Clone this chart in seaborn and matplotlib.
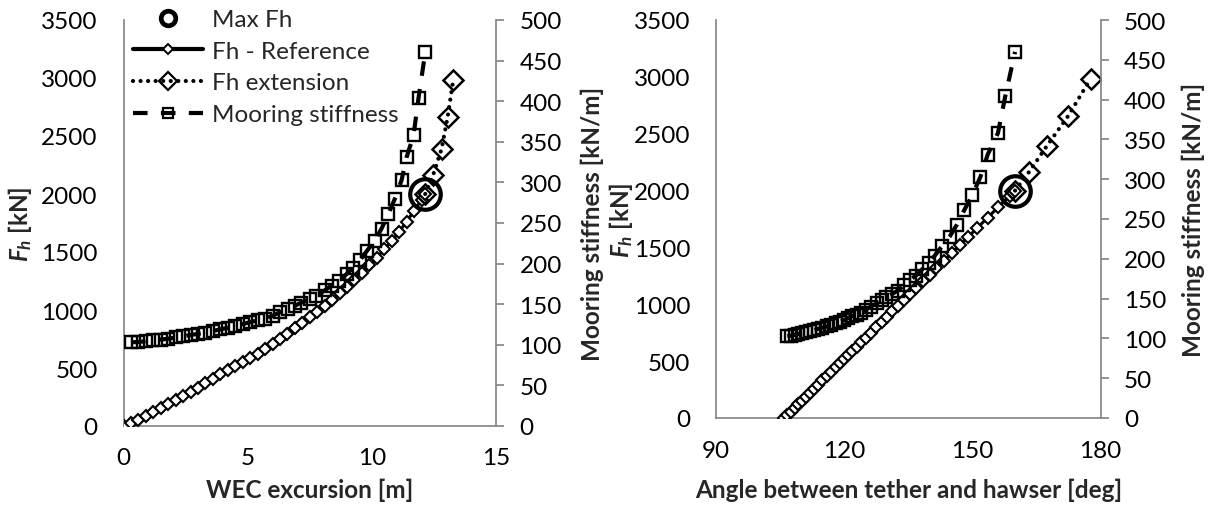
import matplotlib
matplotlib.use("Agg")
import matplotlib.pyplot as plt
from matplotlib.lines import Line2D
import seaborn as sns

# ---------------- data ----------------
# Fh - Reference (diamonds, solid line)
exc_ref = [0.0, 0.3, 0.6, 0.9, 1.2, 1.5, 1.8, 2.1, 2.4, 2.7, 3.0, 3.3, 3.6, 3.9,
           4.2, 4.5, 4.8, 5.1, 5.4, 5.7, 6.0, 6.3, 6.6, 6.9, 7.2, 7.5, 7.8, 8.1,
           8.4, 8.7, 9.0, 9.3, 9.6, 9.9, 10.2, 10.5, 10.8, 11.1, 11.4, 11.7, 12.0, 12.15]
ang_ref = [106.0, 106.7, 107.5, 108.4, 109.2, 110.1, 111.0, 112.0, 112.9, 113.9, 114.9,
           115.9, 117.0, 118.0, 119.0, 120.0, 120.9, 121.9, 122.9, 123.9, 125.0, 126.2,
           127.5, 128.8, 130.0, 131.3, 132.6, 134.0, 135.4, 136.9, 138.4, 140.0, 141.6,
           143.4, 145.2, 147.1, 149.1, 151.2, 153.6, 156.1, 158.7, 160.0]
fh_ref = [0, 27, 56, 88, 120, 153, 186, 221, 256, 293, 330, 368, 406, 445, 482, 517,
          552, 588, 625, 664, 705, 750, 797, 844, 890, 937, 985, 1036, 1088, 1143, 1201,
          1260, 1320, 1384, 1451, 1522, 1595, 1674, 1762, 1856, 1950, 2000]

# Fh extension (dotted)
exc_ext = [12.15, 12.47, 12.81, 13.05, 13.28]
ang_ext = [160.0, 163.3, 167.4, 172.5, 177.7]
fh_ext = [2000, 2165, 2390, 2660, 2985]

# Mooring stiffness (squares, dashed, secondary axis)
exc_k = [0.3, 0.6, 0.9, 1.2, 1.5, 1.8, 2.1, 2.4, 2.7, 3.0, 3.3, 3.6, 3.9, 4.2, 4.5,
         4.8, 5.1, 5.4, 5.69, 6.02, 6.29, 6.63, 6.9, 7.16, 7.5, 7.77, 8.1, 8.38, 8.68,
         8.98, 9.25, 9.52, 9.81, 10.12, 10.39, 10.66, 10.93, 11.2, 11.4, 11.68, 11.88, 12.15]
ang_k = [106.7, 107.5, 108.4, 109.2, 110.1, 111.0, 112.0, 112.9, 113.9, 114.9, 115.9,
         117.0, 118.0, 119.0, 120.0, 120.9, 121.9, 122.9, 123.9, 125.1, 126.2, 127.7,
         128.8, 129.9, 131.3, 132.5, 134.0, 135.3, 136.8, 138.3, 139.8, 141.2, 142.9,
         144.7, 146.4, 148.1, 150.0, 151.9, 153.6, 156.0, 157.7, 160.0]
stiff_k = [103, 103.5, 104.5, 105.5, 106.5, 107.5, 109, 110.5, 112, 113.5, 115, 117,
           119, 121, 123, 125.5, 128, 130, 132, 136, 140, 144, 148, 152, 156, 160, 167,
           173, 179, 187, 195, 204, 216, 228, 243, 261, 280, 303, 331, 358, 404, 460]

# Max Fh
max_exc = [12.15]
max_ang = [160.0]
max_fh = [2000]

fh_ticks = [0, 500, 1000, 1500, 2000, 2500, 3000, 3500]
stiff_ticks = [0, 50, 100, 150, 200, 250, 300, 350, 400, 450, 500]
exc_ticks = [0, 5, 10, 15]
ang_ticks = [90, 120, 150, 180]

# ---------------- style ----------------
sns.set_theme(style="white")
plt.rcParams["font.family"] = ["Lato", "DejaVu Sans"]
plt.rcParams["mathtext.fontset"] = "custom"
plt.rcParams["mathtext.it"] = "Lato:italic:bold"
plt.rcParams["mathtext.rm"] = "Lato:bold"
plt.rcParams["mathtext.bf"] = "Lato:bold"

FS = 17.5
GRAY = "#878787"
SPW = 1.25

fig = plt.figure(figsize=(12.08, 5.06), dpi=100)
W, H = 1208.0, 506.0


def add_axes(l, r, t, b):
    return fig.add_axes([l / W, 1 - b / H, (r - l) / W, (b - t) / H])


def panel(ax, xr, xe, xk, xm, xlim, xticks, xlabel, xpad, ylab_x, y2lab_x, xlab_y):
    # Fh reference
    sns.lineplot(x=xr, y=fh_ref, ax=ax, color="black", linewidth=2.2, marker="D",
                 markersize=6.4, markerfacecolor="white", markeredgecolor="black",
                 markeredgewidth=1.5, sort=False, estimator=None, legend=False, zorder=3)
    # Fh extension
    sns.lineplot(x=xe, y=fh_ext, ax=ax, color="black", linewidth=3.0,
                 linestyle=(0, (0.01, 1.8)), dash_capstyle="round", marker="D",
                 markersize=9.7, markerfacecolor="none", markeredgecolor="black",
                 markeredgewidth=1.8, sort=False, estimator=None, legend=False, zorder=3)
    # Max Fh
    sns.lineplot(x=xm, y=max_fh, ax=ax, color="black", linestyle="none", marker="o",
                 markersize=22, markerfacecolor="none", markeredgecolor="black",
                 markeredgewidth=3.0, sort=False, estimator=None, legend=False, zorder=4)
    ax.set_xlim(*xlim)
    ax.set_ylim(0, 3500)
    ax.set_xticks(xticks)
    ax.set_yticks(fh_ticks)
    ax.set_xticklabels([str(v) for v in xticks])
    ax.set_yticklabels([str(v) for v in fh_ticks])
    for s in ["top", "right"]:
        ax.spines[s].set_visible(False)
    for s in ["left", "bottom"]:
        ax.spines[s].set_color(GRAY)
        ax.spines[s].set_linewidth(SPW)
    ax.tick_params(axis="both", length=0, labelsize=FS, colors="black")
    ax.tick_params(axis="y", pad=18.5)
    ax.tick_params(axis="x", pad=xpad)
    ax.set_xlabel(xlabel, fontsize=FS, fontweight="bold")
    ax.set_ylabel(r"$F_h$ [kN]", fontsize=FS, fontweight="bold")
    ax.xaxis.set_label_coords(0.5, xlab_y)
    ax.yaxis.set_label_coords(ylab_x, 0.5)
    ax.grid(False)

    ax2 = ax.twinx()
    sns.lineplot(x=xk, y=stiff_k, ax=ax2, color="black", linewidth=3.0,
                 linestyle=(0, (3.5, 3.2)), marker="s", markersize=9.3,
                 markerfacecolor="none", markeredgecolor="black", markeredgewidth=1.7,
                 sort=False, estimator=None, legend=False, zorder=3)
    ax2.set_ylim(0, 500)
    ax2.set_yticks(stiff_ticks)
    ax2.set_yticklabels([str(v) for v in stiff_ticks])
    for s in ["top", "left", "bottom"]:
        ax2.spines[s].set_visible(False)
    ax2.spines["right"].set_color(GRAY)
    ax2.spines["right"].set_linewidth(SPW)
    ax2.tick_params(axis="y", length=5.4, width=SPW, color=GRAY, direction="out",
                    labelsize=FS, labelcolor="black", pad=11.5)
    ax2.set_ylabel("Mooring stiffness [kN/m]", fontsize=FS, fontweight="bold")
    ax2.yaxis.set_label_coords(y2lab_x, 0.5)
    ax2.grid(False)
    return ax2


ax_l = add_axes(123.5, 496.0, 21.0, 427.0)
ax_r = add_axes(716.0, 1100.5, 21.0, 419.0)

panel(ax_l, exc_ref, exc_ext, exc_k, max_exc, (0, 15), exc_ticks,
      "WEC excursion [m]", 15.0, -0.24, 1.228, -0.127)
panel(ax_r, ang_ref, ang_ext, ang_k, max_ang, (90, 180), ang_ticks,
      "Angle between tether and hawser [deg]", 16.0, -0.21, 1.212, -0.150)

handles = [
    Line2D([], [], linestyle="none", marker="o", markersize=10.5, markerfacecolor="none",
           markeredgecolor="black", markeredgewidth=3.4, color="black"),
    Line2D([], [], color="black", linewidth=3.0, marker="D", markersize=5.3,
           markerfacecolor="white", markeredgecolor="black", markeredgewidth=1.4),
    Line2D([], [], color="black", linewidth=3.0, linestyle=(0, (0.01, 1.8)),
           dash_capstyle="round", marker="D", markersize=9.0, markerfacecolor="none",
           markeredgecolor="black", markeredgewidth=1.6),
    Line2D([], [], color="black", linewidth=3.0, linestyle=(0, (3.5, 3.2)), marker="s",
           markersize=7.5, markerfacecolor="none", markeredgecolor="black",
           markeredgewidth=1.6),
]
labels = ["Max Fh", "Fh - Reference", "Fh extension", "Mooring stiffness"]
fig.legend(handles, labels, loc="upper left", bbox_to_anchor=(133 / W, 1 - 10 / H),
           frameon=False, fontsize=FS, handlelength=2.9, handletextpad=0.35,
           labelspacing=0.44, borderpad=0, borderaxespad=0)

fig.savefig("out.png", dpi=100)
